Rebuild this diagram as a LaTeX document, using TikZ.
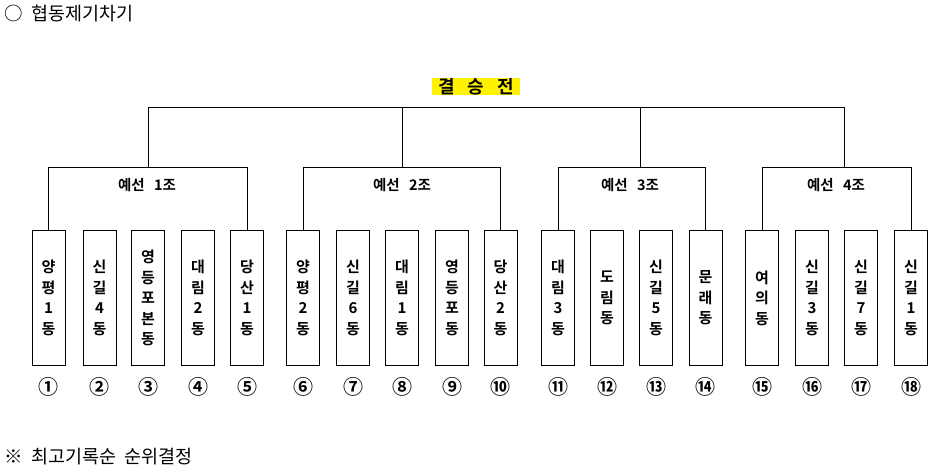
\documentclass[tikz,border=0pt]{standalone}
\usepackage{fontspec}
\newfontfamily\kr{Noto Sans CJK KR}[BoldFont={Noto Sans CJK KR Bold}]
\begin{document}
\begin{tikzpicture}[x=1pt,y=-1pt,
  team/.style={draw=black,line width=1pt,minimum width=33pt,minimum height=134pt,inner sep=0pt,
    font=\kr\bfseries\fontsize{15}{20.5}\selectfont,align=center},
  grp/.style={font=\kr\bfseries\fontsize{14.5}{16}\selectfont,inner sep=1pt},
  num/.style={font=\kr\bfseries\fontsize{20}{20}\selectfont,inner sep=0pt},
  wire/.style={line width=1pt,draw=black},
  plain/.style={font=\kr\fontsize{18.5}{20}\selectfont,anchor=west,inner sep=0pt}]
\useasboundingbox (0,0) rectangle (935,473);
% titles
\node[plain] (title) at (4,14) {○\hspace{9pt}협동제기차기};
\node[plain] (note) at (4,457) {※\hspace{9pt}최고기록순\hspace{8pt}순위결정};
\node[fill=yellow,font=\kr\bfseries\fontsize{18}{18}\selectfont,minimum width=88pt,minimum height=17pt,inner sep=0pt] (final) at (476,86.5) {결\hspace{13pt}승\hspace{13pt}전};
% teams
\foreach \i/\x/\t in {1/48.5/{양\\평\\1\\동},2/99.5/{신\\길\\4\\동},3/148/{영\\등\\포\\본\\동},4/198/{대\\림\\2\\동},5/247/{당\\산\\1\\동},
  6/303/{양\\평\\2\\동},7/353/{신\\길\\6\\동},8/402/{대\\림\\1\\동},9/452/{영\\등\\포\\동},10/500.5/{당\\산\\2\\동},
  11/558/{대\\림\\3\\동},12/607/{도\\림\\동},13/656/{신\\길\\5\\동},14/705.5/{문\\래\\동},
  15/762/{여\\의\\동},16/812/{신\\길\\3\\동},17/861/{신\\길\\7\\동},18/911/{신\\길\\1\\동}}{
  \node[team] (b\i) at (\x,298) {\t};
}
\foreach \i/\c in {1/①,2/②,3/③,4/④,5/⑤,6/⑥,7/⑦,8/⑧,9/⑨,10/⑩,11/⑪,12/⑫,13/⑬,14/⑭,15/⑮,16/⑯,17/⑰,18/⑱}{
  \node[num] (n\i) at (b\i.south |- 0,387) {\c};
}
% group junctions
\coordinate (j1) at (148,168);
\coordinate (j2) at (402.5,168);
\coordinate (j3) at (640.5,168);
\coordinate (j4) at (844.5,168);
\coordinate (t1) at (148,108);
\coordinate (t4) at (844.5,108);
\node[grp] (g1) at (147,185) {예선\hspace{6pt} 1조};
\node[grp] (g2) at (402,185) {예선\hspace{6pt} 2조};
\node[grp] (g3) at (630,185) {예선\hspace{6pt} 3조};
\node[grp] (g4) at (836,185) {예선\hspace{6pt} 4조};
% brackets
\draw[wire] (b1.north) -- (b1.north |- j1) -- (b5.north |- j1) -- (b5.north);
\draw[wire] (b6.north) -- (b6.north |- j2) -- (b10.north |- j2) -- (b10.north);
\draw[wire] (b11.north) -- (b11.north |- j3) -- (b14.north |- j3) -- (b14.north);
\draw[wire] (b15.north) -- (b15.north |- j4) -- (b18.north |- j4) -- (b18.north);
\draw[wire] (j1) -- (t1) -- (t4) -- (j4);
\draw[wire] (j2) -- (j2 |- t1);
\draw[wire] (j3) -- (j3 |- t1);
\end{tikzpicture}
\end{document}
